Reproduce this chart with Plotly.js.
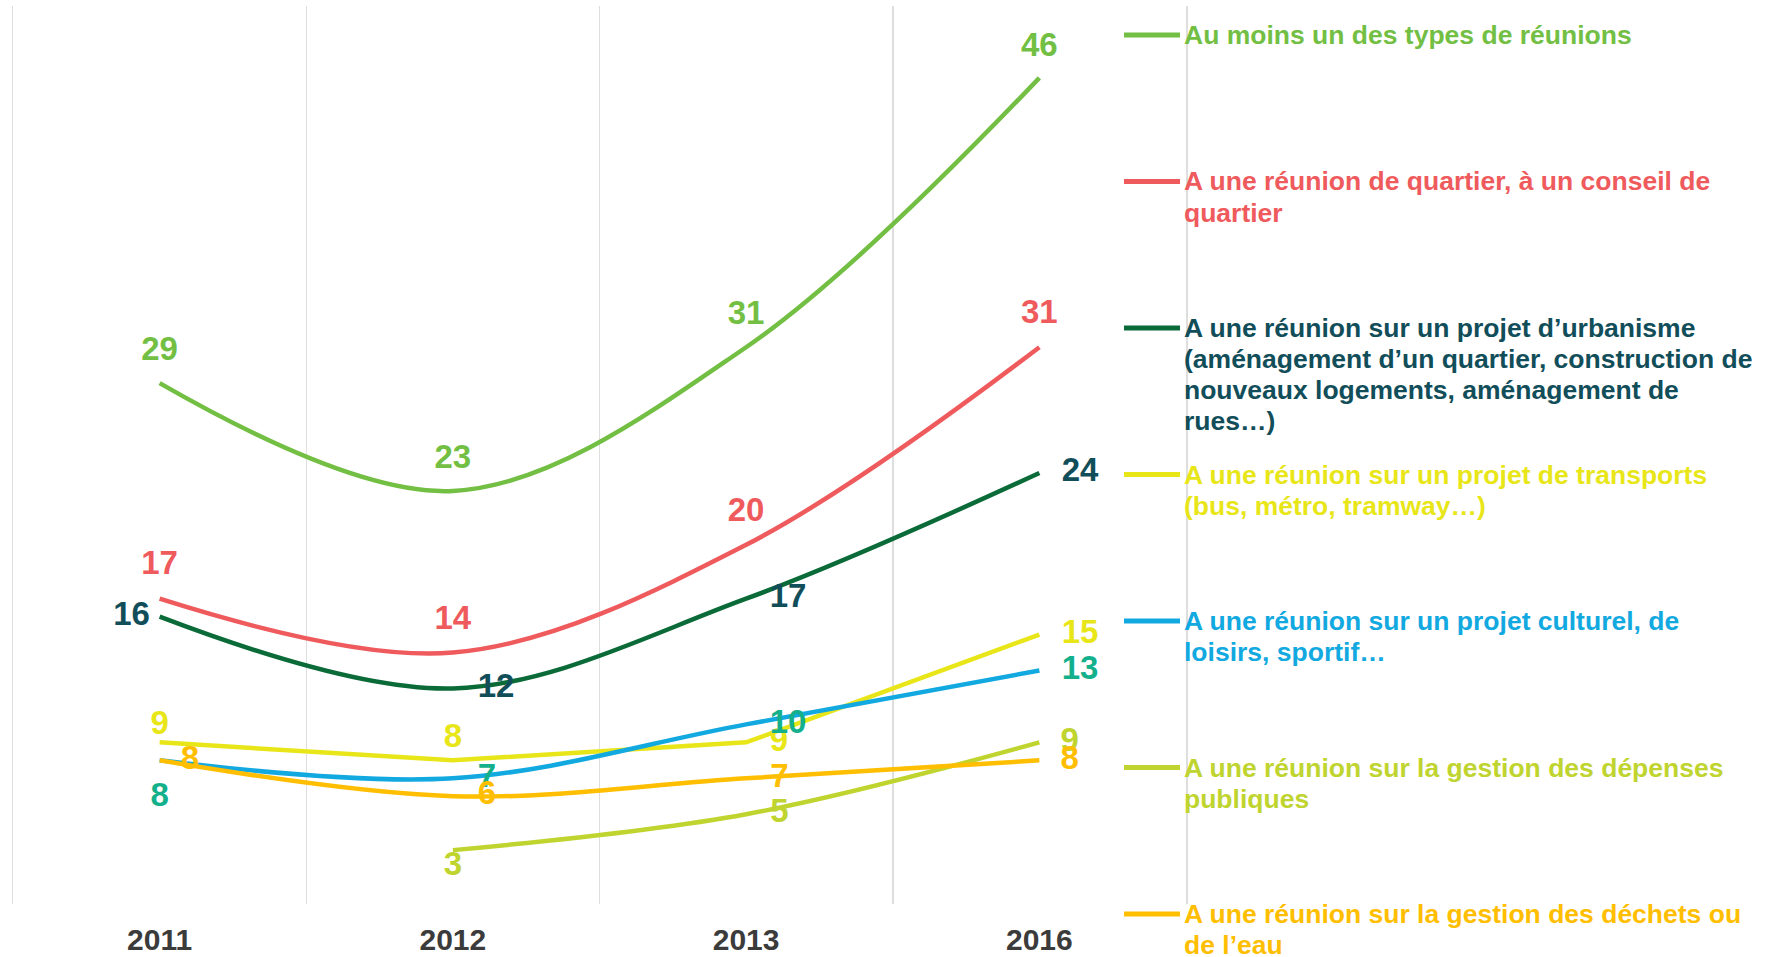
<!DOCTYPE html>
<html>
<head>
<meta charset="utf-8">
<script src="https://cdn.plot.ly/plotly-3.0.1.min.js"></script>
<style>
	body { margin: 0; background: #fff; }
	#chart { width: 1768px; height: 957px; }
</style>
</head>
<body>
<div id="chart"></div>
<script>
var years = ['2011', '2012', '2013', '2016'];

var auMoinsUn = [29, 23, 31, 46];
var quartier = [17, 14, 20, 31];
var urbanisme = [16, 12, 17, 24];
var transports = [9, 8, 9, 15];
var culturel = [8, 7, 10, 13];
var depenses = [null, 3, 5, 9];
var dechets = [8, 6, 7, 8];

// legend labels, one entry per line of text
var seriesNames = [
	['Au moins un des types de réunions'],
	['A une réunion de quartier, à un conseil de', 'quartier'],
	['A une réunion sur un projet d’urbanisme', '(aménagement d’un quartier, construction de', 'nouveaux logements, aménagement de', 'rues…)'],
	['A une réunion sur un projet de transports', '(bus, métro, tramway…)'],
	['A une réunion sur un projet culturel, de', 'loisirs, sportif…'],
	['A une réunion sur la gestion des dépenses', 'publiques'],
	['A une réunion sur la gestion des déchets ou', 'de l’eau']
];

var FONT = 'Liberation Sans, Arial, Helvetica, sans-serif';

// plot area in pixels, used to place the hand made legend
var plotL = 13, plotR = 1186, plotT = 6, plotB = 904;

function main(){
	var data = [
		makeLine(auMoinsUn, '#72bf44', '#72bf44', 'spline',
			['top center', 'top center', 'top center', 'top center'], [23, 22, 23, 20]),
		makeLine(quartier, '#ef5a5d', '#ef5a5d', 'spline',
			['top center', 'top center', 'top center', 'top center'], [24, 23, 23, 24]),
		makeLine(urbanisme, '#0b6b38', '#114e5a', 'spline',
			['middle left', 'middle right', 'middle right', 'middle right'], [14, 38, 36, 34]),
		makeLine(transports, '#e8e619', '#e8e619', 'linear',
			['top center', 'top center', 'middle right', 'middle right'], [0, 7, 36, 34]),
		makeLine(culturel, '#12a8e0', '#14b08c', 'spline',
			['bottom center', 'middle right', 'middle right', 'middle right'], [32, 38, 36, 34]),
		makeLine(depenses, '#c0d430', '#c0d430', 'spline',
			['bottom center', 'bottom center', 'middle right', 'middle right'], [0, 0, 37, 32]),
		makeLine(dechets, '#ffbe00', '#ffbe00', 'spline',
			['middle right', 'middle right', 'middle right', 'middle right'], [32, 38, 37, 32])
	];

	var legendColors = ['#72bf44', '#ef5a5d', '#114e5a', '#e8e619', '#12a8e0', '#c0d430', '#ffbe00'];
	var lineColors = ['#72bf44', '#ef5a5d', '#0b6b38', '#e8e619', '#12a8e0', '#c0d430', '#ffbe00'];

	var annotations = [];
	var shapes = [];
	for (var i = 0; i < seriesNames.length; i++) {
		var yc = 35 + i * 146.5;
		shapes.push({
			type: 'line', xref: 'paper', yref: 'paper',
			x0: px2x(1124), x1: px2x(1180), y0: px2y(yc), y1: px2y(yc),
			line: {color: lineColors[i], width: 5}
		});
		for (var k = 0; k < seriesNames[i].length; k++) {
			annotations.push({
				xref: 'paper', yref: 'paper',
				x: px2x(1182), y: px2y(yc + k * 31),
				xanchor: 'left', yanchor: 'middle', align: 'left',
				showarrow: false,
				text: '<b>' + seriesNames[i][k] + '</b>',
				font: {family: FONT, size: 26.5, color: legendColors[i]}
			});
		}
	}

	var layout = {
		width: 1768,
		height: 957,
		margin: {l: plotL, r: 1768 - plotR, t: plotT, b: 957 - plotB, pad: 0},
		paper_bgcolor: '#ffffff',
		plot_bgcolor: '#ffffff',
		showlegend: false,
		xaxis: {
			type: 'category',
			categoryarray: years,
			range: [-0.5, 3.5],
			tickson: 'boundaries',
			showgrid: true,
			gridcolor: '#dedede',
			gridwidth: 1.5,
			zeroline: false,
			showline: false,
			ticks: '',
			ticklabelstandoff: 15,
			tickfont: {family: FONT, size: 30, color: '#3b3b3b', weight: 'bold'}
		},
		yaxis: {
			range: [0, 50],
			showgrid: false,
			zeroline: false,
			showticklabels: false,
			ticks: '',
			showline: true,
			mirror: true,
			linecolor: '#dedede',
			linewidth: 1.5
		},
		shapes: shapes,
		annotations: annotations
	};

	Plotly.newPlot('chart', data, layout, {displayModeBar: false, staticPlot: true});
}

function px2x(px){
	return (px - plotL) / (plotR - plotL);
}

function px2y(py){
	return (plotB - py) / (plotB - plotT);
}

function makeLine(values, color, labelColor, shape, positions, gaps){
	return {
		x: years,
		y: values,
		type: 'scatter',
		mode: 'lines+markers+text',
		line: {color: color, width: 4.5, shape: shape, smoothing: 1},
		// invisible markers only push the labels away from the line
		marker: {size: gaps, color: color, opacity: 0},
		text: values.map(function(v){ return v === null ? '' : String(v); }),
		textposition: positions,
		textfont: {family: FONT, size: 33, color: labelColor, weight: 'bold'},
		cliponaxis: false,
		hoverinfo: 'skip'
	};
}

main();
</script>
</body>
</html>
